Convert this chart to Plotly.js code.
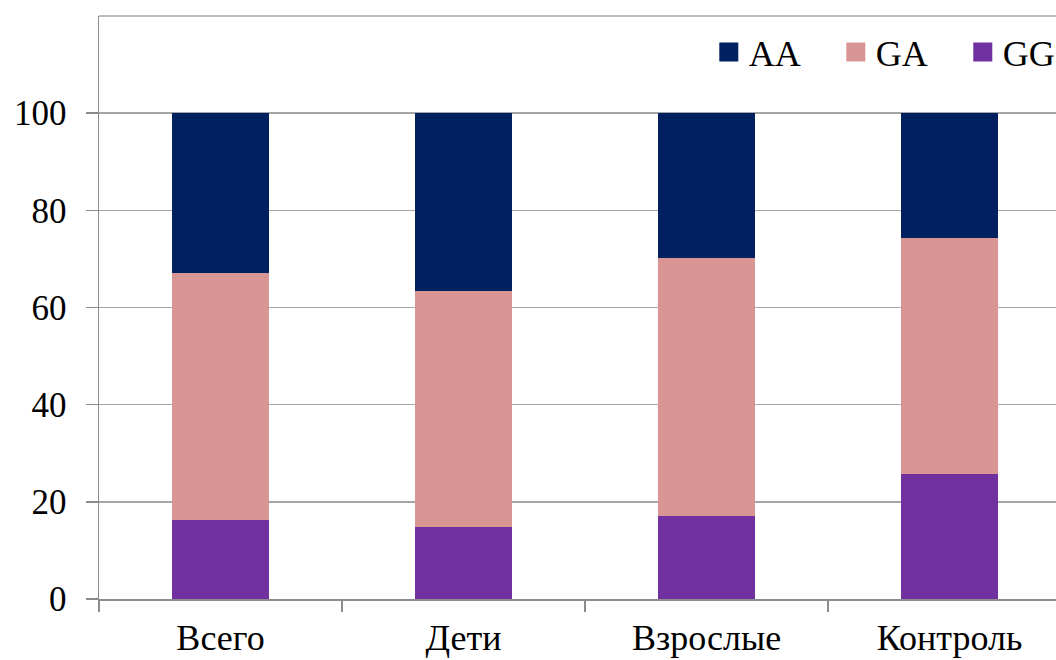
<!DOCTYPE html>
<html>
<head>
<meta charset="utf-8">
<script src="https://cdn.plot.ly/plotly-3.0.1.min.js"></script>
<style>html,body{margin:0;padding:0;background:#fff;}#chart{width:1056px;height:660px;}</style>
</head>
<body>
<div id="chart"></div>
<script>
var categories = ["Всего", "Дети", "Взрослые", "Контроль"];
var seriesNames = ["GG", "GA", "AA"];
var valuesGG = [16.3, 14.8, 17.1, 25.8];
var valuesGA = [50.9, 48.5, 53.0, 48.6];
var valuesAA = [32.8, 36.7, 29.9, 25.6];
var yTickVals = [0, 20, 40, 60, 80, 100];
var colors = {GG: "#7030A0", GA: "#D99594", AA: "#002060"};

var seriesValues = {GG: valuesGG, GA: valuesGA, AA: valuesAA};
var traces = seriesNames.map(function (n) {
  return {
    type: "bar",
    name: n,
    x: categories,
    y: seriesValues[n],
    width: 0.4,
    marker: {color: colors[n], line: {width: 0}},
    hoverinfo: "x+y+name"
  };
});

var FAM = "Times New Roman";
var layout = {
  width: 1056,
  height: 660,
  margin: {l: 99, r: 0, t: 16, b: 61, pad: 0, autoexpand: false},
  paper_bgcolor: "#fff",
  plot_bgcolor: "#fff",
  barmode: "stack",
  font: {family: FAM, size: 34, color: "#000"},
  showlegend: true,
  legend: {
    orientation: "h",
    traceorder: "reversed",
    x: 0.6372, xanchor: "left",
    y: 0.938, yanchor: "middle",
    font: {family: FAM, size: 36, color: "#000"},
    entrywidth: 82, entrywidthmode: "pixels",
    bgcolor: "rgba(0,0,0,0)"
  },
  xaxis: {
    type: "category",
    range: [-0.5, 3.438],
    tickson: "boundaries",
    ticks: "outside",
    ticklen: 11,
    tickcolor: "#8c8c8c",
    tickwidth: 1.5,
    ticklabelstandoff: 6,
    showgrid: false,
    showline: true,
    linecolor: "#8c8c8c",
    linewidth: 1.5,
    zeroline: false,
    automargin: false,
    tickfont: {family: FAM, size: 36, color: "#000"},
    fixedrange: true
  },
  yaxis: {
    range: [0, 120],
    tickmode: "array",
    tickvals: yTickVals,
    ticktext: yTickVals.map(String),
    ticks: "outside",
    ticklen: 12,
    tickcolor: "#8c8c8c",
    tickwidth: 1.5,
    ticklabelstandoff: 12,
    showgrid: true,
    gridcolor: "#a6a6a6",
    gridwidth: 1.5,
    showline: true,
    linecolor: "#8c8c8c",
    linewidth: 1.5,
    zeroline: false,
    automargin: false,
    tickfont: {family: FAM, size: 35, color: "#000"},
    fixedrange: true
  },
  shapes: [
    {type: "line", xref: "paper", yref: "paper", x0: 0, x1: 1, y0: 1, y1: 1,
     line: {color: "#a6a6a6", width: 1.5}}
  ]
};

Plotly.newPlot("chart", traces, layout, {displayModeBar: false, staticPlot: true}).then(function (gd) {
  gd.querySelectorAll(".legend .legendpoints path").forEach(function (p) {
    p.setAttribute("d", "M9.5,9.5H-9.5V-9.5H9.5Z");
  });
});
</script>
</body>
</html>
